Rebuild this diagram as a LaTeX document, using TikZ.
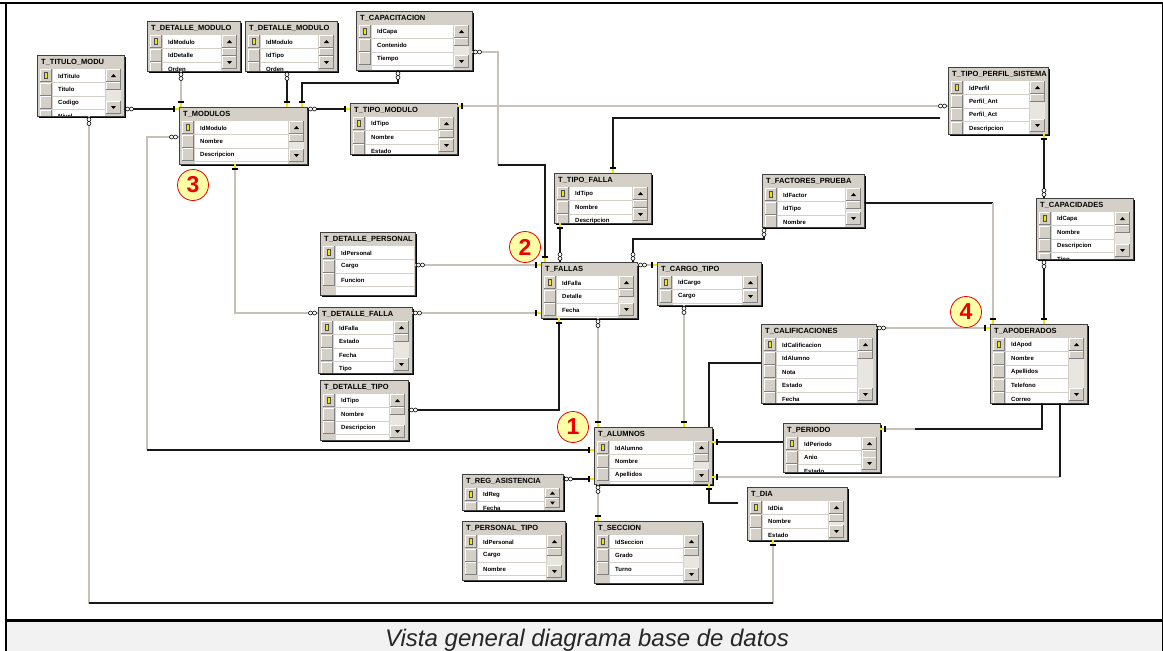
\documentclass[tikz,border=0pt]{standalone}
\usepackage{fontspec}
\setmainfont{Liberation Sans}
\usetikzlibrary{calc}

\definecolor{wingray}{HTML}{D4D0C8}
\definecolor{winshade}{HTML}{808080}
\definecolor{sbtrack}{HTML}{E8E6E1}
\definecolor{relgray}{HTML}{C6C2BA}
\definecolor{capbg}{HTML}{F2F2F2}
\definecolor{keyyel}{HTML}{F2E600}
\definecolor{numfill}{HTML}{FFFFA6}
\definecolor{numred}{HTML}{EE0000}

\tikzset{
  tabnode/.style={rectangle, inner sep=0pt, outer sep=0pt, fill=wingray, draw=black!75, line width=0.8pt},
  tabtitle/.style={font=\fontsize{7.5}{8}\selectfont\bfseries, inner sep=0pt, anchor=west},
  fieldtext/.style={font=\fontsize{6}{7}\selectfont\bfseries, inner sep=0pt, anchor=west},
  rel/.style={draw=relgray, line width=1.5pt},
  relk/.style={draw=black!90, line width=2.6pt},
  numcirc/.style={circle, fill=numfill, draw=numred, line width=0.8pt, minimum size=31pt,
    inner sep=0pt, text=numred, font=\fontsize{23}{23}\selectfont\bfseries},
  keyend/.pic={\draw[keyyel, line width=1.8pt] (0,0) -- (5,0);
               \draw[black, line width=1.3pt] (5,-3) -- (5,3);},
  manyend/.pic={\draw[black, line width=0.6pt, fill=white] (3.5,0) circle (2);
                \draw[black, line width=0.6pt, fill=white] (7.5,0) circle (2);},
}

% raised Windows-style button: x0 y0 x1 y1
\newcommand\winbutton[4]{%
  \fill[wingray] ({#1},{#2}) rectangle ({#3},{#4});
  \draw[white, line width=0.6pt] ({#1+0.3},{#4-0.3}) -- ({#1+0.3},{#2+0.3}) -- ({#3-0.3},{#2+0.3});
  \draw[winshade, line width=0.6pt] ({#1+0.3},{#4-0.3}) -- ({#3-0.3},{#4-0.3}) -- ({#3-0.3},{#2+0.3});
}

% table window: name, x, y, width, height, title, fields, scrollbar (1/0)
\newcommand\dbtab[8]{%
  \fill[black] ({#2+2},{#3+2}) rectangle ({#2+#4+2},{#3+#5+2});
  \node[tabnode, minimum width=#4pt, minimum height=#5pt, anchor=north west] (#1) at (#2,#3) {};
  \begin{scope}
    \clip ({#2+0.8},{#3+0.8}) rectangle ({#2+#4-0.8},{#3+#5-0.8});
    \node[tabtitle] at ({#2+4},{#3+7}) {#6};
    \pgfmathsetmacro\tbwr{#2+#4-(#8==1 ? 19 : 1)}
    \fill[white] ({#2+16},{#3+14}) rectangle (\tbwr,{#3+#5});
    \foreach \f [count=\i] in {#7} {
      \pgfmathsetmacro\tbry{#3+14+(\i-1)*13.5}
      \winbutton{#2+3}{\tbry}{#2+15}{\tbry+13}
      \ifnum\i=1
        \fill[keyyel, draw=black!70, line width=0.3pt] ({#2+7.5},{\tbry+3.5}) rectangle ({#2+10.5},{\tbry+9.5});
      \fi
      \node[fieldtext] at ({#2+21},{\tbry+7}) {\f};
      \draw[wingray, line width=0.8pt] ({#2+16},{\tbry+13.5}) -- (\tbwr,{\tbry+13.5});
    }
    \ifnum#8=1
      \pgfmathsetmacro\tbsa{#2+#4-18}
      \pgfmathsetmacro\tbsb{#2+#4-3}
      \pgfmathsetmacro\tbta{#3+14}
      \pgfmathsetmacro\tbtb{#3+#5-2}
      \pgfmathsetmacro\tbbh{min(13,(#5-16)/2)}
      \pgfmathsetmacro\tbcx{(\tbsa+\tbsb)/2}
      \fill[sbtrack] (\tbsa,\tbta) rectangle (\tbsb,\tbtb);
      \winbutton{\tbsa}{\tbta}{\tbsb}{\tbta+\tbbh}
      \winbutton{\tbsa}{\tbta+\tbbh}{\tbsb}{\tbta+\tbbh+8}
      \winbutton{\tbsa}{\tbtb-\tbbh}{\tbsb}{\tbtb}
      \fill[black] ({\tbcx-2.5},{\tbta+\tbbh/2+1.5}) -- ({\tbcx+2.5},{\tbta+\tbbh/2+1.5}) -- (\tbcx,{\tbta+\tbbh/2-1.5}) -- cycle;
      \fill[black] ({\tbcx-2.5},{\tbtb-\tbbh/2-1.5}) -- ({\tbcx+2.5},{\tbtb-\tbbh/2-1.5}) -- (\tbcx,{\tbtb-\tbbh/2+1.5}) -- cycle;
    \fi
  \end{scope}
}

\begin{document}
\begin{tikzpicture}[x=1pt,y=-1pt]
\useasboundingbox (0,0) rectangle (1163,651);
\fill[white] (0,0) rectangle (1163,651);

% ---------- tables ----------
\dbtab{A}{37}{55}{87}{61}{T\_TITULO\_MODU}{IdTitulo,Titulo,Codigo,Nivel}{1}
\dbtab{B}{147}{21}{93}{50}{T\_DETALLE\_MODULO}{IdModulo,IdDetalle,Orden}{1}
\dbtab{C}{245}{21}{92}{50}{T\_DETALLE\_MODULO}{IdModulo,IdTipo,Orden}{1}
\dbtab{D}{356}{11}{116}{59}{T\_CAPACITACION}{IdCapa,Contenido,Tiempo}{1}
\dbtab{E}{179}{107}{128}{57}{T\_MODULOS}{IdModulo,Nombre,Descripcion}{1}
\dbtab{F}{350}{103}{107}{51}{T\_TIPO\_MODULO}{IdTipo,Nombre,Estado}{1}
\dbtab{G}{948}{67}{100}{67}{T\_TIPO\_PERFIL\_SISTEMA}{IdPerfil,Perfil\_Ant,Perfil\_Act,Descripcion}{1}
\dbtab{H}{762}{174}{102}{53}{T\_FACTORES\_PRUEBA}{IdFactor,IdTipo,Nombre}{1}
\dbtab{I}{1036}{198}{97}{61}{T\_CAPACIDADES}{IdCapa,Nombre,Descripcion,Tipo}{1}
\dbtab{J}{554}{173}{97}{50}{T\_TIPO\_FALLA}{IdTipo,Nombre,Descripcion}{1}
\dbtab{K}{320}{232}{95}{63}{T\_DETALLE\_PERSONAL}{IdPersonal,Cargo,Funcion}{0}
\dbtab{L}{318}{307}{94}{66}{T\_DETALLE\_FALLA}{IdFalla,Estado,Fecha,Tipo}{1}
\dbtab{M}{320}{380}{88}{60}{T\_DETALLE\_TIPO}{IdTipo,Nombre,Descripcion}{1}
\dbtab{N}{541}{262}{96}{56}{T\_FALLAS}{IdFalla,Detalle,Fecha}{1}
\dbtab{O}{657}{262}{104}{43}{T\_CARGO\_TIPO}{IdCargo,Cargo}{1}
\dbtab{P}{761}{324}{115}{79}{T\_CALIFICACIONES}{IdCalificacion,IdAlumno,Nota,Estado,Fecha}{1}
\dbtab{Q}{990}{324}{97}{79}{T\_APODERADOS}{IdApod,Nombre,Apellidos,Telefono,Correo}{1}
\dbtab{R}{594}{427}{118}{57}{T\_ALUMNOS}{IdAlumno,Nombre,Apellidos}{1}
\dbtab{S}{462}{474}{101}{36}{T\_REG\_ASISTENCIA}{IdReg,Fecha}{1}
\dbtab{T}{462}{521}{103}{59}{T\_PERSONAL\_TIPO}{IdPersonal,Cargo,Nombre}{1}
\dbtab{U}{594}{521}{108}{62}{T\_SECCION}{IdSeccion,Grado,Turno}{1}
\dbtab{V}{783}{423}{97}{49}{T\_PERIODO}{IdPeriodo,Anio,Estado}{1}
\dbtab{W}{747}{487}{100}{53}{T\_DIA}{IdDia,Nombre,Estado}{1}

% ---------- relationships ----------
\draw[relk] ($(A.north east)+(0,54)$) coordinate (c1a) -- ($(E.north west)+(0,2)$) coordinate (c1b);
\draw[rel] ($(A.south west)+(52,0)$) coordinate (c2a) -- ($(A.south west)+(52,487)$) -| ($(W.south west)+(26,0)$) coordinate (c2b);
\draw[relk] ($(A.south west)+(52,487)$) -- ($(W.south west)+(26,63)$);
\draw[rel] ($(E.north west)+(0,30)$) coordinate (c3a) -- ++(-32,0) -- ++(0,313);
\draw[relk] ($(E.north west)+(-32,343)$) -- ($(R.north west)+(0,23)$) coordinate (c3b);
\draw[rel] ($(E.south west)+(56,0)$) coordinate (c4a) |- ($(L.north west)+(0,6)$) coordinate (c4b);
\draw[rel] ($(L.north east)+(0,6)$) coordinate (c5a) -- ($(N.south west)+(0,-5)$) coordinate (c5b);
\draw[rel] ($(B.south west)+(34,0)$) coordinate (c6a) -- ($(E.north west)+(2,0)$) coordinate (c6b);
\draw[relk] ($(C.south west)+(42,0)$) coordinate (c7a) -- ($(E.north west)+(108,0)$) coordinate (c7b);
\draw[relk] ($(D.south west)+(42,0)$) coordinate (c8a) -- ++(0,13) -| ($(E.north west)+(123,0)$) coordinate (c8b);
\draw[relk] ($(E.north east)+(0,2)$) coordinate (c9a) -- ($(F.north west)+(0,6)$) coordinate (c9b);
\draw[rel] ($(F.north east)+(0,3)$) coordinate (c10a) -- ($(G.north west)+(0,39)$) coordinate (c10b);
\draw[rel] ($(D.north east)+(0,41)$) coordinate (c11a) -- ++(26,0) -- ++(0,113);
\draw[relk] ($(D.north east)+(26,154)$) -| ($(N.north west)+(4,0)$) coordinate (c11b);
\draw[relk] ($(J.north west)+(59,0)$) coordinate (c12a) |- ($(G.north west)+(-8,51)$);
\draw[relk] ($(G.south east)+(-4,0)$) coordinate (c13a) -- ($(I.north west)+(8,0)$) coordinate (c13b);
\draw[relk] ($(I.south west)+(8,0)$) coordinate (c14a) -- ($(Q.north west)+(54,0)$) coordinate (c14b);
\draw[relk] ($(J.south west)+(6,0)$) coordinate (c15a) -- ($(N.north west)+(19,0)$) coordinate (c15b);
\draw[relk] ($(N.north east)+(-4,0)$) coordinate (c16a) -- ++(0,-23) -| ($(H.south west)+(2,0)$) coordinate (c16b);
\draw[rel] ($(N.north east)+(0,3)$) coordinate (c17a) -- ($(O.north west)+(0,3)$) coordinate (c17b);
\draw[rel] ($(K.north east)+(0,33)$) coordinate (c18a) -- ($(N.north west)+(0,3)$) coordinate (c18b);
\draw[relk] ($(M.north east)+(0,30)$) coordinate (c19a) -| ($(N.south west)+(18,0)$) coordinate (c19b);
\draw[rel] ($(N.south west)+(57,0)$) coordinate (c20a) -- ($(R.north west)+(4,0)$) coordinate (c20b);
\draw[rel] ($(O.south west)+(27,0)$) coordinate (c21a) -- ($(R.north west)+(90,0)$) coordinate (c21b);
\draw[relk] ($(H.north east)+(0,29)$) coordinate (c22a) -- ($(Q.north west)+(3,-121)$);
\draw[rel] ($(Q.north west)+(3,-121)$) -- ($(Q.north west)+(3,0)$) coordinate (c22b);
\draw[rel] ($(P.north east)+(0,4)$) coordinate (c23a) -- ($(Q.north west)+(0,4)$) coordinate (c23b);
\draw[relk] ($(P.north west)+(0,39)$) -| ($(R.north east)+(-3,0)$);
\draw[relk] ($(R.north east)+(0,15)$) coordinate (c25a) -- ($(V.north west)+(0,19)$);
\draw[rel] ($(V.north east)+(0,6)$) coordinate (c26a) -- ++(35,0);
\draw[relk] ($(V.north east)+(35,6)$) -| ($(Q.south west)+(52,0)$);
\draw[rel] ($(R.north east)+(0,50)$) coordinate (c27a) -- ($(Q.south west)+(70,74)$);
\draw[relk] ($(Q.south west)+(70,74)$) -- ($(Q.south west)+(70,0)$);
\draw[relk] ($(R.south east)+(-3,0)$) coordinate (c28a) |- ($(W.north west)+(-9,16)$);
\draw[relk] ($(S.north east)+(0,5)$) coordinate (c29a) -- ($(R.north west)+(0,52)$) coordinate (c29b);
\draw[rel] ($(R.south west)+(4,0)$) coordinate (c30a) -- ($(U.north west)+(4,0)$) coordinate (c30b);

% ---------- relationship end marks ----------
\pic at (c1a) {manyend};              \pic[rotate=180] at (c1b) {keyend};
\pic[rotate=-90] at (c2a) {manyend};  \pic[rotate=-90] at (c2b) {keyend};
\pic[rotate=180] at (c3a) {manyend};  \pic[rotate=180] at (c3b) {keyend};
\pic[rotate=-90] at (c4a) {keyend};   \pic[rotate=180] at (c4b) {manyend};
\pic at (c5a) {manyend};              \pic[rotate=180] at (c5b) {keyend};
\pic[rotate=-90] at (c6a) {manyend};  \pic[rotate=90] at (c6b) {keyend};
\pic[rotate=-90] at (c7a) {manyend};  \pic[rotate=90] at (c7b) {keyend};
\pic[rotate=-90] at (c8a) {manyend};  \pic[rotate=90] at (c8b) {keyend};
\pic at (c9a) {manyend};              \pic[rotate=180] at (c9b) {keyend};
\pic at (c10a) {keyend};              \pic[rotate=180] at (c10b) {manyend};
\pic at (c11a) {manyend};             \pic[rotate=90] at (c11b) {keyend};
\pic[rotate=90] at (c12a) {keyend};
\pic[rotate=-90] at (c13a) {keyend};  \pic[rotate=90] at (c13b) {manyend};
\pic[rotate=-90] at (c14a) {manyend}; \pic[rotate=90] at (c14b) {keyend};
\pic[rotate=-90] at (c15a) {keyend};  \pic[rotate=90] at (c15b) {manyend};
\pic[rotate=90] at (c16a) {manyend};  \pic[rotate=-90] at (c16b) {manyend};
\pic at (c17a) {manyend};             \pic[rotate=180] at (c17b) {keyend};
\pic at (c18a) {manyend};             \pic[rotate=180] at (c18b) {keyend};
\pic at (c19a) {manyend};             \pic[rotate=-90] at (c19b) {keyend};
\pic[rotate=-90] at (c20a) {manyend}; \pic[rotate=90] at (c20b) {keyend};
\pic[rotate=-90] at (c21a) {manyend}; \pic[rotate=90] at (c21b) {keyend};
\pic[rotate=90] at (c22b) {keyend};
\pic at (c23a) {manyend};             \pic[rotate=180] at (c23b) {keyend};
\pic at (c25a) {keyend};
\pic at (c26a) {keyend};
\pic at (c27a) {keyend};
\pic[rotate=-90] at (c28a) {keyend};
\pic at (c29a) {manyend};             \pic[rotate=180] at (c29b) {keyend};
\pic[rotate=-90] at (c30a) {manyend}; \pic[rotate=90] at (c30b) {keyend};

% ---------- numbered markers ----------
\node[numcirc] (n1) at (573,427) {1};
\node[numcirc] (n2) at (525,247) {2};
\node[numcirc] (n3) at (193,185) {3};
\node[numcirc] (n4) at (966,312) {4};

% ---------- frame and caption ----------
\fill[capbg] (6,621) rectangle (1163,651);
\draw[black, line width=2.5pt] (0,3) -- (1163,3);
\draw[black, line width=2.5pt] (5,620.5) -- (1163,620.5);
\draw[black, line width=2pt] (6,3) -- (6,651);
\draw[black, line width=1pt] (1162.5,3) -- (1162.5,651);
\node[font=\fontsize{24}{24}\selectfont\itshape, text=black!85, anchor=base, inner sep=0pt] (cap)
  at (587,646) {Vista general diagrama base de datos};
\end{tikzpicture}
\end{document}
